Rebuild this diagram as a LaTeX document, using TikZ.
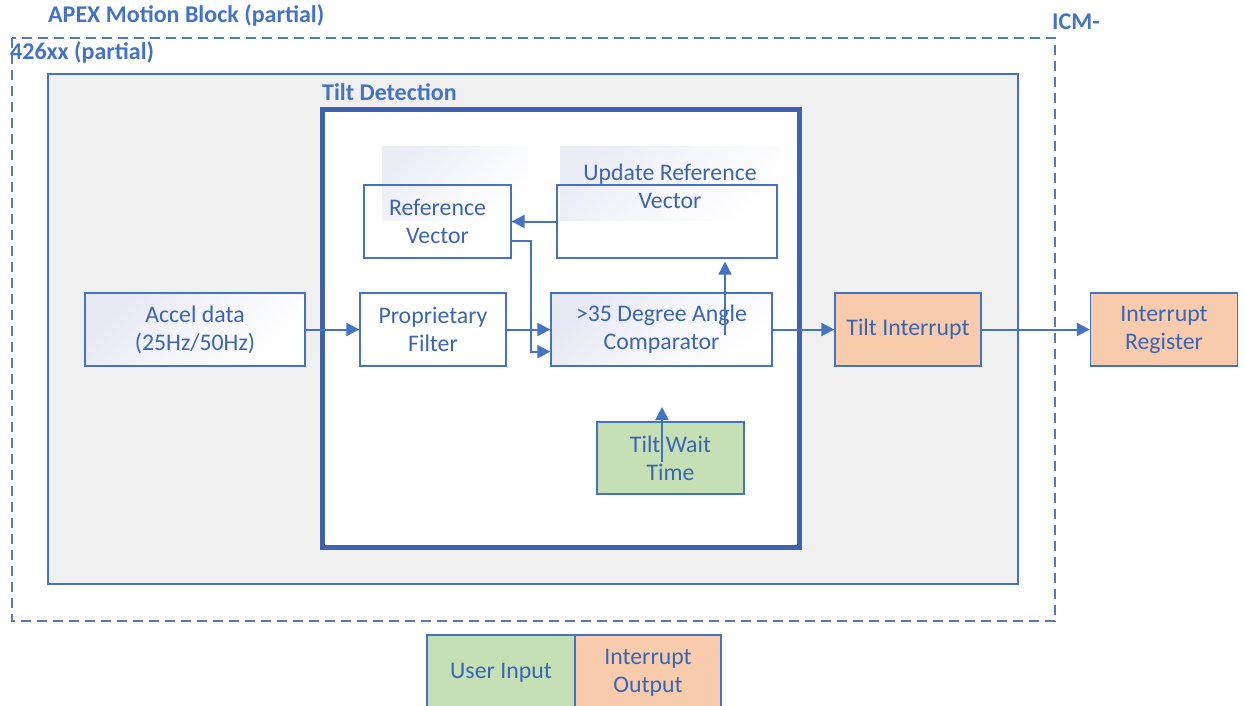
\documentclass[tikz,border=0pt]{standalone}
\usepackage{fontspec}
\setmainfont{Carlito}
\usetikzlibrary{arrows.meta,calc}

\definecolor{ttlblue}{HTML}{4472C4}
\definecolor{txtblue}{HTML}{3B65B2}
\definecolor{lnblue}{HTML}{4472C4}
\definecolor{frameblue}{HTML}{3E62AD}
\definecolor{dashblue}{HTML}{5577C0}
\definecolor{panelgrey}{HTML}{F0F0F0}
\definecolor{lavender}{HTML}{E6E8F4}
\definecolor{usergreen}{HTML}{C5E0B4}
\definecolor{irqorange}{HTML}{F8CBAD}

\tikzset{
  x=1pt, y=-1pt,
  heading/.style={anchor=west, inner sep=0pt, text=ttlblue,
    font=\fontsize{24}{28}\selectfont\bfseries},
  blockbox/.style={draw=lnblue, line width=1.3pt, inner sep=0pt, align=center,
    text=txtblue, font=\fontsize{23.8}{28}\selectfont},
  plainlabel/.style={inner sep=0pt, align=center, text=txtblue,
    font=\fontsize{23.8}{28}\selectfont},
  softshade/.style={shading=axis, top color=lavender, bottom color=white,
    middle color=white!60!lavender, shading angle=45},
  flow/.style={draw=lnblue, line width=2pt,
    -{Triangle[length=13pt,width=13pt]}},
}

\begin{document}
\begin{tikzpicture}
\useasboundingbox (0,0) rectangle (1245,706);

% outer dashed device boundary and its headings
\draw[dashblue, line width=1.5pt, dash pattern=on 10pt off 6pt]
  (12,38) rectangle (1055,621);
\node[heading] (apex) at (48,15) {APEX Motion Block (partial)};
\node[heading] (icma) at (1052,22) {ICM-};
\node[heading] (icmb) at (10,52) {426xx (partial)};

% grey motion block panel
\draw[lnblue, line width=1.2pt, fill=panelgrey] (48,74) rectangle (1018,584);

% tilt detection frame
\node[heading] (tilthead) at (322,92) {Tilt Detection};
\draw[frameblue, line width=5pt, fill=white] (322.5,110) rectangle (799,547);

% faint shaded backgrounds behind the reference blocks
\shade[softshade, opacity=0.8] (382,147) rectangle (528,220);
\shade[softshade, opacity=0.8] (560,147) rectangle (781,220);

% blocks
\node[blockbox, minimum width=220pt, minimum height=73pt, softshade]
  (accel) at (195,329.5) {Accel data\\(25Hz/50Hz)};
\node[blockbox, minimum width=146pt, minimum height=73pt, fill=white]
  (filter) at (433,329.5) {Proprietary\\Filter};
\node[blockbox, minimum width=221pt, minimum height=73pt, softshade]
  (comp) at (661.5,329.5) {>35 Degree Angle\\Comparator};
\node[blockbox, minimum width=147pt, minimum height=73pt]
  (refvec) at (437.5,221.5) {Reference\\Vector};
\node[blockbox, minimum width=220pt, minimum height=73pt]
  (update) at (667,221.5) {};
\node[plainlabel] (updtext) at (670,186) {Update Reference\\Vector};
\node[blockbox, minimum width=147pt, minimum height=72pt, fill=usergreen]
  (wait) at (670.5,458) {Tilt Wait\\Time};
\node[blockbox, minimum width=146pt, minimum height=73pt, fill=irqorange]
  (tiltirq) at (908,329.5) {Tilt Interrupt};
\node[blockbox, minimum width=147pt, minimum height=73pt, fill=irqorange]
  (irqreg) at (1164,329.5) {Interrupt\\Register};

% connectors
\coordinate (cmpin) at (725,335);
\coordinate (waitin) at (662,462);
\coordinate (waitout) at (662,407);

\draw[flow] (accel.east) -- (filter.west);
\draw[flow] (filter.east) -- (comp.west);
\draw[flow] (update.west) -- (refvec.east);
\draw[flow] ($(refvec.south east)+(0,-18)$) -- ++(19,0)
  |- ($(comp.south west)+(0,-15)$);
\draw[flow] (cmpin) -- ($(cmpin |- update.south)+(0,3)$);
\draw[flow] (waitin) -- (waitout);
\draw[flow] (comp.east) -- (tiltirq.west);
\draw[flow] (tiltirq.east) -- (irqreg.west);

% legend
\node[blockbox, minimum width=148pt, minimum height=76pt, fill=usergreen]
  (leguser) at (501,673) {User Input};
\node[blockbox, minimum width=146pt, minimum height=76pt, fill=irqorange]
  (legirq) at (648,673) {Interrupt\\Output};
\end{tikzpicture}
\end{document}
